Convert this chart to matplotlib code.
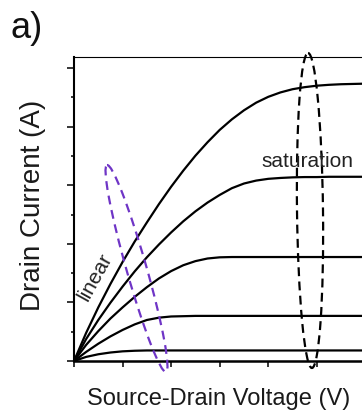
import matplotlib
matplotlib.use("Agg")
import matplotlib.pyplot as plt
from matplotlib.patches import Ellipse
from matplotlib.transforms import Affine2D

plt.rcParams['font.family'] = ['Liberation Sans', 'DejaVu Sans']

# source-drain voltage samples (tick units) and the drain current read at each one
v_sd = [0, 0.25, 0.5, 0.75, 1.0, 1.25, 1.5, 1.75, 2.0, 2.25, 2.5, 2.75, 3.0,
        3.25, 3.5, 3.75, 4.0, 4.25, 4.5, 4.75, 5.0, 5.25, 5.5, 5.75, 6.0, 6.25]

i_g5 = [0, 0.96, 1.83, 2.63, 3.38, 4.08, 4.73, 5.36, 5.95, 6.50, 7.01, 7.47, 7.89,
        8.25, 8.56, 8.82, 9.02, 9.17, 9.28, 9.35, 9.40, 9.43, 9.45, 9.46, 9.47, 9.48]
i_g4 = [0, 0.75, 1.40, 1.99, 2.54, 3.06, 3.54, 3.98, 4.39, 4.77, 5.11, 5.41, 5.67,
        5.90, 6.06, 6.16, 6.22, 6.25, 6.27, 6.28, 6.28, 6.29, 6.29, 6.29, 6.29, 6.29]
i_g3 = [0, 0.55, 1.02, 1.45, 1.83, 2.19, 2.52, 2.82, 3.07, 3.27, 3.41, 3.50, 3.54,
        3.55, 3.55, 3.55, 3.55, 3.55, 3.55, 3.55, 3.55, 3.55, 3.55, 3.55, 3.55, 3.55]
i_g2 = [0, 0.31, 0.59, 0.84, 1.06, 1.25, 1.40, 1.48, 1.52, 1.53, 1.54, 1.54, 1.54,
        1.54, 1.54, 1.54, 1.54, 1.54, 1.54, 1.54, 1.54, 1.54, 1.54, 1.54, 1.54, 1.54]
i_g1 = [0, 0.14, 0.23, 0.29, 0.33, 0.35, 0.36, 0.36, 0.36, 0.36, 0.36, 0.36, 0.36,
        0.36, 0.36, 0.36, 0.36, 0.36, 0.36, 0.36, 0.36, 0.36, 0.36, 0.36, 0.36, 0.36]

fig = plt.figure(figsize=(3.62, 4.16), dpi=100)
ax = fig.add_axes([74 / 362, 55 / 416, 1 - 74 / 362, (361 - 56.7) / 416])

for i_d in [i_g5, i_g4, i_g3, i_g2, i_g1]:
    ax.plot(v_sd, i_d, color='black', lw=1.6, solid_capstyle='round')

ax.set_xlim(0, 5.93)
ax.set_ylim(0, 10.39)

ax.set_xticks(range(0, 6))
ax.set_yticks(range(0, 11, 2))
ax.set_yticks(range(1, 11, 2), minor=True)
ax.set_xticklabels([])
ax.set_yticklabels([])
ax.tick_params(axis='x', direction='out', length=4, width=1.1)
ax.tick_params(axis='y', which='major', direction='out', length=5, width=1.1)
ax.tick_params(axis='y', which='minor', direction='out', length=2.5, width=1.1)

ax.spines['right'].set_visible(False)
ax.spines['top'].set_linewidth(0.8)
ax.spines['left'].set_linewidth(1.5)
ax.spines['bottom'].set_linewidth(1.8)

# pixel coordinates, y downwards, for the annotations
px = Affine2D().scale(1 / 100, -1 / 100).translate(0, 4.16) + fig.dpi_scale_trans

lin_ell = Ellipse((136.5, 268.5), 20, 215, angle=-15.9, fill=False,
                  edgecolor='#6f35c6', lw=1.6, linestyle=(0, (4, 2.6)),
                  transform=px)
sat_ell = Ellipse((310, 210.5), 26, 315, angle=-0.7, fill=False,
                  edgecolor='black', lw=1.6, linestyle=(0, (4, 2.4)),
                  transform=px)
fig.add_artist(lin_ell)
fig.add_artist(sat_ell)

fig.text(10.5, 37.5, "a)", transform=px, fontsize=26, ha='left', va='baseline', color='#111111')
fig.text(219, 405, "Source-Drain Voltage (V)", transform=px, fontsize=17,
         ha='center', va='baseline', color='#1a1a1a')
fig.text(33, 205, "Drain Current (A)", transform=px, fontsize=20, rotation=90,
         ha='center', va='center', color='#1a1a1a')
fig.text(261, 167, "saturation", transform=px, fontsize=15, ha='left', va='baseline', color='#222222')
fig.text(95, 277, "linear", transform=px, fontsize=15, rotation=61,
         ha='center', va='center', color='#222222', rotation_mode='anchor')

fig.savefig("out.png", dpi=100)
